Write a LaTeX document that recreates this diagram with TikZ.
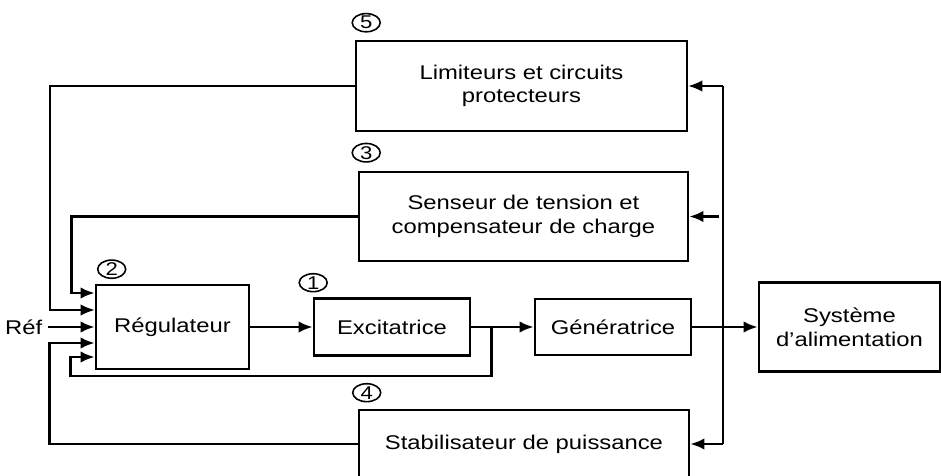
\documentclass[tikz,border=0pt]{standalone}
\usepackage{fontspec}
\setmainfont{Liberation Sans}[FakeStretch=1.2]
\usepackage{tikz}
\usetikzlibrary{calc}
\usetikzlibrary{shapes,arrows.meta}
\tikzstyle{block}=[draw, line width=1.5pt, align=center, inner sep=2pt, font=\fontsize{11.3}{13.5}\selectfont]
\tikzstyle{wideBlock}=[block, minimum width=6.6cm, minimum height=1.78cm]
\tikzstyle{numTag}=[draw, ellipse, line width=0.9pt, minimum width=0.56cm, minimum height=0.34cm, inner sep=0pt, font=\fontsize{10.5}{10.5}\selectfont]
\tikzstyle{link}=[draw, line width=1.4pt, -{Latex[length=8pt,width=6.5pt]}]
\tikzstyle{wire}=[draw, line width=1.4pt]

\begin{document}
\begin{tikzpicture}[x=0.02cm, y=-0.02cm]
\useasboundingbox (0,0) rectangle (941,476);
\node (regulateur) [block, minimum width=3.06cm, minimum height=1.68cm] at (172.5,327) {Régulateur};
\path (regulateur.center)+(219.5,0) node (excitatrice) [block, minimum width=3.12cm, minimum height=1.14cm] {Excitatrice};
\path (excitatrice.center)+(221,0) node (generatrice) [block, minimum width=3.12cm, minimum height=1.12cm] {Génératrice};
\path (generatrice.center)+(236.5,0) node (systeme) [block, minimum width=3.62cm, minimum height=1.78cm] {Système\\d’alimentation};
\path (regulateur.center)+(349,-241) node (limiteurs) [wideBlock, minimum width=6.62cm, minimum height=1.8cm] {Limiteurs et circuits\\protecteurs};
\path (regulateur.center)+(351,-110.5) node (senseur) [wideBlock, minimum width=6.58cm] {Senseur de tension et\\compensateur de charge};
\path (regulateur.center)+(351.5,117) node (stabilisateur) [wideBlock, minimum height=1.36cm] {Stabilisateur de puissance};
\path (regulateur.west)+(-71,0) node (refLabel) [font=\fontsize{11.3}{13.5}\selectfont] {Réf};

% numbered tags
\path (limiteurs.north west)+(11.5,-17) node (tagFive) [numTag] {5};
\path (senseur.north west)+(8.5,-18) node (tagThree) [numTag] {3};
\path (regulateur.north west)+(17,-14.5) node (tagTwo) [numTag] {2};
\path (excitatrice.north west)+(0.5,-14.5) node (tagOne) [numTag] {1};
\path (stabilisateur.north west)+(9,-16) node (tagFour) [numTag] {4};

% forward path
\draw[link] (regulateur) -- (excitatrice);
\draw[link] (excitatrice) -- (generatrice);
\draw[link] (generatrice) -- (systeme);
\draw[link] (refLabel) -- (regulateur.west |- refLabel);

% feedback into the regulator
\draw[link] (senseur.west) -| ($(regulateur.west)+(-23,-34)$) -- ($(regulateur.west)+(0,-34)$);
\draw[link, line width=1pt] (limiteurs.west) -| ($(regulateur.west)+(-45,-17)$) -- ($(regulateur.west)+(0,-17)$);
\draw[link] (stabilisateur.west) -| ($(regulateur.west)+(-45,16)$) -- ($(regulateur.west)+(0,16)$);
\coordinate (excTap) at ($(excitatrice.east)!0.32!(generatrice.west)$);
\draw[link] (excTap) -- ++(0,49) -| ($(regulateur.west)+(-24,30)$) -- ($(regulateur.west)+(0,30)$);

% measurement bus
\coordinate (busTop) at ($(limiteurs.east)+(35,0)$);
\coordinate (busBottom) at (busTop |- stabilisateur.west);
\coordinate (senTap) at ($(senseur.east)+(30,0)$);
\draw[wire, line width=1pt] (busTop) -- (busBottom);
\draw[link, line width=1pt] (busTop) -- (limiteurs.east);
\draw[link] (senTap) -- (senseur.east);
\draw[link] (busBottom) -- (stabilisateur.east);
\end{tikzpicture}
\end{document}
